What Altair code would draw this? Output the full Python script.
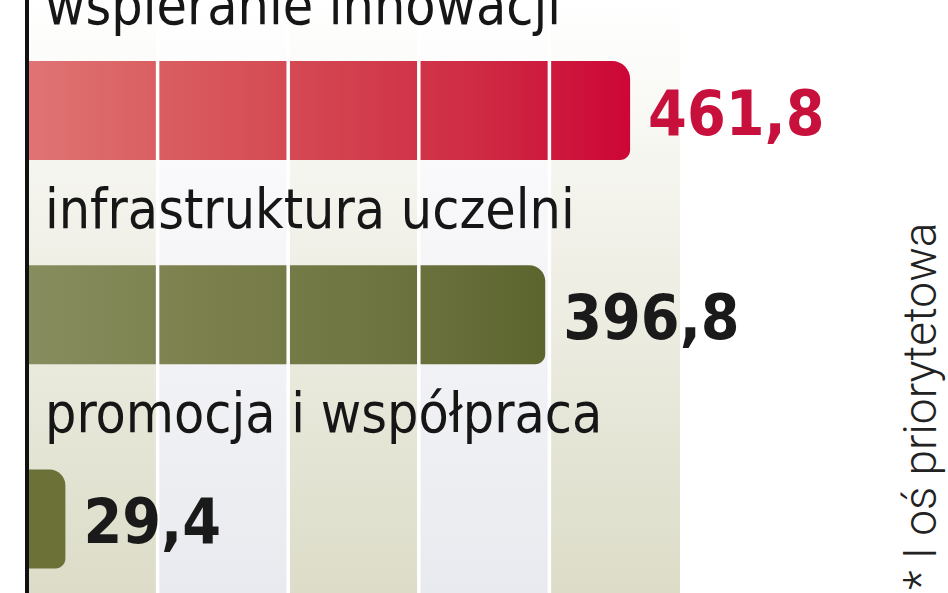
import altair as alt
import pandas as pd

# --- chart data -------------------------------------------------------------
categories = ["wspieranie innowacji", "infrastruktura uczelni", "promocja i współpraca"]
values = [461.8, 396.8, 29.4]
value_labels = ["461,8", "396,8", "29,4"]
label_tones = ["red", "dark", "dark"]
gridlines = [100, 200, 300, 400]
band_starts = [0, 100, 200, 300, 400]
band_ends = [100, 200, 300, 400, 500]
band_tones = ["olive", "blue", "olive", "blue", "olive"]
footnote = "* I oś priorytetowa"

bars = pd.DataFrame({"row": list(range(len(categories))), "category": categories,
                     "value": values, "label": value_labels, "tone": label_tones})
bars["zero"] = 0
bands = pd.DataFrame({"start": band_starts, "end": band_ends, "tone": band_tones})
grid = pd.DataFrame({"x": gridlines})

# --- layout -----------------------------------------------------------------
W, H = 948, 593
HALF = 0.242  # half bar thickness, in row units
bars["top"] = bars["row"] - HALF
bars["bottom"] = bars["row"] + HALF

LABEL_FONT = "DejaVu Sans Condensed, Liberation Sans Narrow, Roboto, sans-serif"
VALUE_FONT = "DejaVu Sans Condensed, Liberation Sans Narrow, Roboto, sans-serif"

x_scale = alt.Scale(domain=[0, 500], range=[27, 680])
y_scale = alt.Scale(domain=[-0.541, 2.362], range=[0, H])


def vgrad(bottom):
    return alt.Gradient(gradient="linear", x1=0, y1=0, x2=0, y2=1,
                        stops=[alt.GradientStop(offset=0, color="#ffffff"),
                               alt.GradientStop(offset=1, color=bottom)])


def hgrad(colors):
    n = len(colors) - 1
    return alt.Gradient(gradient="linear", x1=0, y1=0, x2=1, y2=0,
                        stops=[alt.GradientStop(offset=i / n, color=c)
                               for i, c in enumerate(colors)])


def band_layer(tone, bottom):
    return alt.Chart(bands[bands["tone"] == tone]).mark_rect(
        fill=vgrad(bottom)
    ).encode(
        x=alt.X("start:Q", scale=x_scale, axis=None),
        x2="end:Q",
        y=alt.value(0),
        y2=alt.value(H),
    )


def bar_layer(rows, fill, r_top, r_bottom):
    return alt.Chart(bars[bars["row"].isin(rows)]).mark_rect(
        fill=fill, cornerRadiusTopRight=r_top, cornerRadiusBottomRight=r_bottom
    ).encode(
        x=alt.X("zero:Q", scale=x_scale, axis=None),
        x2="value:Q",
        y=alt.Y("top:Q", scale=y_scale, axis=None),
        y2="bottom:Q",
    )


background = band_layer("olive", "#dcdcc8") + band_layer("blue", "#e9eaef")

red_bar = bar_layer([0], hgrad(["#e07474", "#d95b5f", "#d3434f", "#cf2a44", "#cd0636"]), 18, 10)
olive_bar = bar_layer([1], hgrad(["#888d5f", "#7b804d", "#6f7541", "#5d652f"]), 16, 10)
small_bar = bar_layer([2], "#6c7138", 16, 10)

grid_rules = alt.Chart(grid).mark_rule(color="#ffffff", strokeWidth=3.5).encode(
    x=alt.X("x:Q", scale=x_scale, axis=None),
    y=alt.value(0),
    y2=alt.value(H),
)

axis_line = alt.Chart(bars.head(1)).mark_rule(color="#111111", strokeWidth=4).encode(
    x=alt.X("zero:Q", scale=x_scale, axis=None),
    y=alt.value(0),
    y2=alt.value(H),
)

category_text = alt.Chart(bars).mark_text(
    align="left", baseline="alphabetic", dx=18, dy=-87,
    font=LABEL_FONT, fontSize=55, color="#161616"
).encode(
    x=alt.X("zero:Q", scale=x_scale, axis=None),
    y=alt.Y("row:Q", scale=y_scale, axis=None),
    text="category:N",
)

value_text = alt.Chart(bars).mark_text(
    align="left", baseline="alphabetic", dx=18, dy=24,
    font=VALUE_FONT, fontSize=62, fontWeight="bold"
).encode(
    x=alt.X("value:Q", scale=x_scale, axis=None),
    y=alt.Y("row:Q", scale=y_scale, axis=None),
    text="label:N",
    color=alt.Color("tone:N", scale=alt.Scale(domain=["red", "dark"],
                                              range=["#c8103c", "#1a1a1a"]),
                    legend=None),
)

footnote_text = alt.Chart(pd.DataFrame({"t": [footnote]})).mark_text(
    align="left", baseline="alphabetic", angle=270,
    font="Roboto, sans-serif", fontWeight=300, fontSize=46, color="#222222"
).encode(
    x=alt.value(936), y=alt.value(590), text="t:N"
)

chart = alt.layer(
    background, red_bar, olive_bar, small_bar, grid_rules, axis_line,
    category_text, value_text, footnote_text
).properties(
    width=W, height=H, padding=0, autosize=alt.AutoSizeParams(type="none"),
    background="#ffffff"
).configure_view(stroke=None)

chart.save("out.html", embed_options={"renderer": "svg", "actions": False})
